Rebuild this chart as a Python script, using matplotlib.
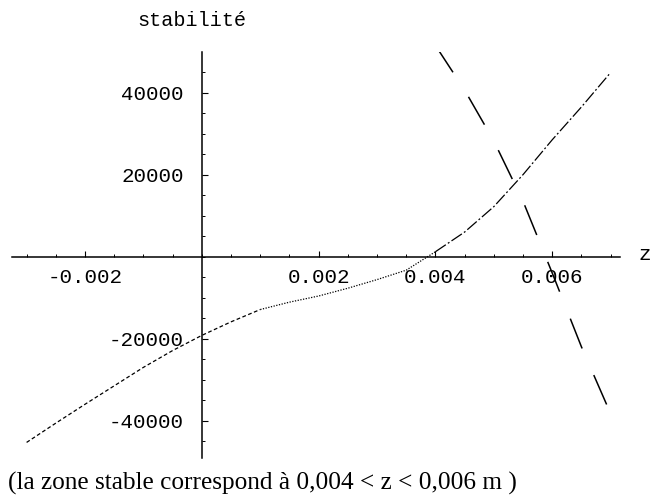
import numpy as np
import matplotlib
matplotlib.use("Agg")
import matplotlib.pyplot as plt
from matplotlib.ticker import MultipleLocator

# curve 1 (rising one)
z1 = [-0.003, -0.0025, -0.002, -0.0015, -0.001, -0.0005, 0.0, 0.0005, 0.001, 0.0015,
      0.002, 0.0025, 0.003, 0.0035, 0.004, 0.0045, 0.005, 0.0055, 0.006, 0.0065, 0.007]
s1 = [-45300, -40600, -36000, -31500, -27000, -22900, -19200, -15900, -12900, -11100,
      -9600, -7700, -5600, -3300, 1200, 6000, 12200, 20000, 28500, 36500, 44900]

# curve 2 (falling one)
z2 = [0.004, 0.0045, 0.005, 0.0055, 0.006, 0.0065, 0.007]
s2 = [51500, 40600, 28200, 13500, -4000, -22000, -38300]

z1 = np.array(z1)
s1 = np.array(s1)

fig = plt.figure(figsize=(6.53, 5.01), dpi=100)
ax = fig.add_axes([12/653, 43/501, 608/653, 406/501])

# curve 1 drawn in three pieces, the dash pattern changes along it
i0 = np.where(z1 == 0.001)[0][0]
i1 = np.where(z1 == 0.004)[0][0]
ax.plot(z1[:i0+1], s1[:i0+1], color='k', lw=0.9, dashes=(3, 2))
ax.plot(z1[i0:i1+1], s1[i0:i1+1], color='k', lw=0.9, dashes=(1, 1.2))
ax.plot(z1[i1:], s1[i1:], color='k', lw=0.9, dashes=(10, 2, 1.5, 2))

ax.plot(z2, s2, color='k', lw=1.1, dashes=(21, 19))

ax.set_xlim(-0.00325, 0.00716)
ax.set_ylim(-49100, 49900)

for side in ['top', 'right']:
    ax.spines[side].set_visible(False)
ax.spines['left'].set_position(('data', 0))
ax.spines['bottom'].set_position(('data', 0))
ax.spines['left'].set_linewidth(1.1)
ax.spines['bottom'].set_linewidth(1.1)

ax.xaxis.set_major_locator(MultipleLocator(0.002))
ax.xaxis.set_minor_locator(MultipleLocator(0.0005))
ax.yaxis.set_major_locator(MultipleLocator(20000))
ax.yaxis.set_minor_locator(MultipleLocator(5000))

xt = [-0.002, 0.002, 0.004, 0.006]
yt = [-40000, -20000, 20000, 40000]
ax.set_xticks(xt)
ax.set_xticklabels(['-0.002', '0.002', '0.004', '0.006'])
ax.set_yticks(yt)
ax.set_yticklabels(['-40000', '-20000', '20000', '40000'])

mono = 'Liberation Mono'
ax.tick_params(axis='both', which='major', direction='in', length=4, width=0.8,
               labelsize=15, labelfontfamily=mono)
ax.tick_params(axis='both', which='minor', direction='in', length=2.5, width=0.7)
ax.tick_params(axis='x', pad=8)
ax.tick_params(axis='y', pad=13)

fig.text(192/653, 1 - 20/501, 'stabilité', ha='center', va='center',
         fontsize=14.5, family=mono)
fig.text(645/653, 1 - 255/501, 'z', ha='center', va='center', fontsize=15, family=mono)
fig.text(8/653, 1 - 483/501, '(la zone stable correspond à 0,004 < z < 0,006 m )',
         ha='left', va='center', fontsize=18.2, family='Liberation Serif')

fig.savefig('out.png', dpi=100)
